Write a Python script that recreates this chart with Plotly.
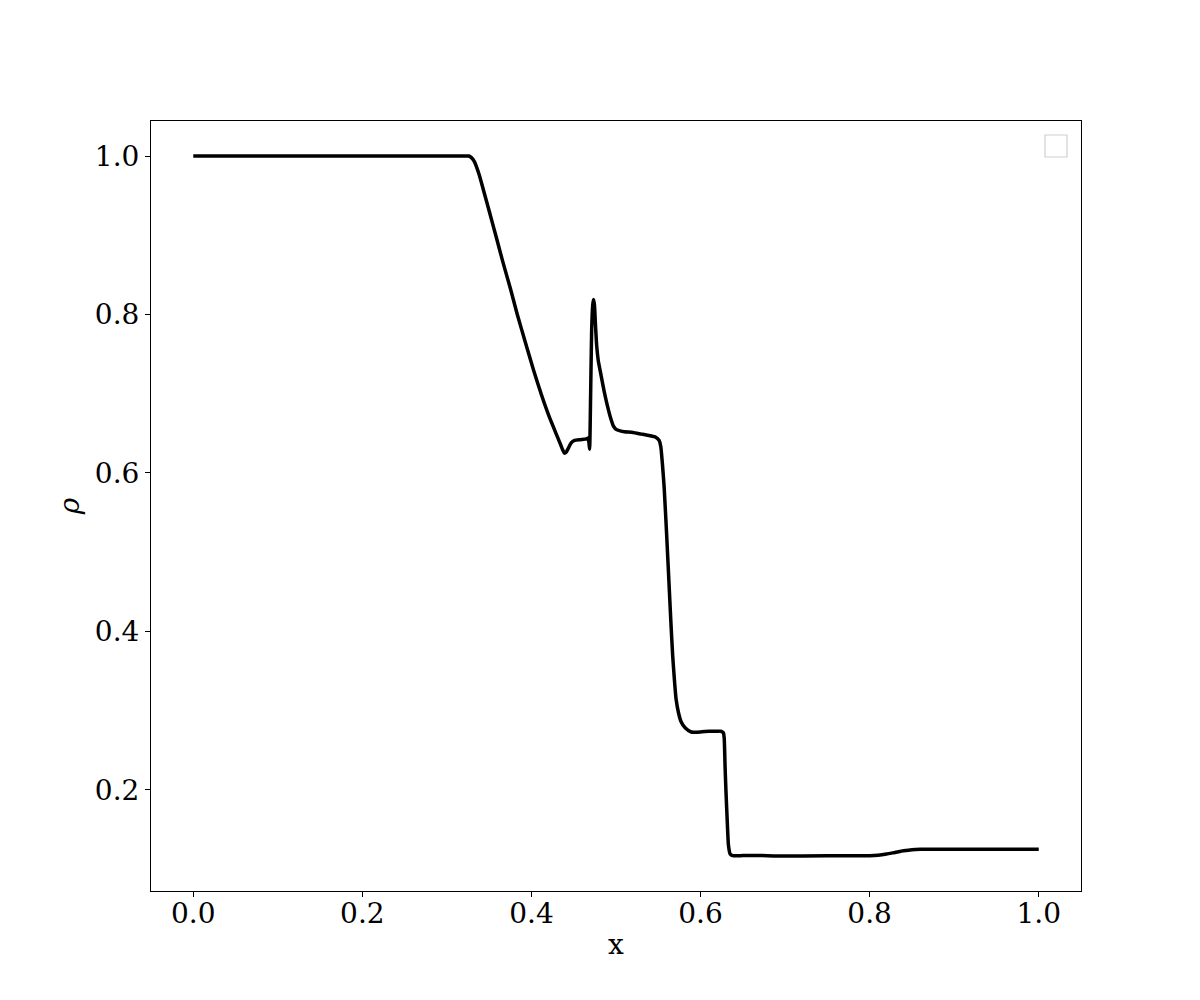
import plotly.graph_objects as go

x_vals = [0.0, 0.32, 0.326, 0.329, 0.3325, 0.338, 0.344, 0.350, 0.358, 0.366, 0.375, 0.383,
          0.393, 0.4027, 0.412, 0.421, 0.429, 0.434, 0.437, 0.439, 0.441, 0.444, 0.447, 0.451,
          0.458, 0.465, 0.467, 0.468, 0.4688, 0.4700, 0.4712, 0.4725, 0.4734, 0.4745, 0.4758,
          0.4772, 0.479, 0.482, 0.486, 0.490, 0.494, 0.497, 0.500, 0.505, 0.51, 0.52, 0.53, 0.54,
          0.547, 0.551, 0.553, 0.555, 0.557, 0.560, 0.563, 0.565, 0.567, 0.569, 0.571, 0.574,
          0.577, 0.582, 0.589, 0.60, 0.61, 0.62, 0.624, 0.627, 0.628, 0.629, 0.630, 0.632, 0.633,
          0.635, 0.638, 0.65, 0.67, 0.69, 0.75, 0.80, 0.81, 0.82, 0.83, 0.84, 0.85, 0.86, 1.0]
rho_vals = [1.0, 1.0, 1.0, 0.998, 0.993, 0.977, 0.954, 0.9305, 0.899, 0.867, 0.833, 0.801,
            0.764, 0.729, 0.698, 0.671, 0.650, 0.637, 0.629, 0.625, 0.626, 0.632, 0.638, 0.641,
            0.642, 0.643, 0.644, 0.638, 0.630, 0.70, 0.78, 0.812, 0.819, 0.812, 0.785,
            0.760, 0.742, 0.725, 0.703, 0.684, 0.668, 0.659, 0.655, 0.653, 0.652, 0.651, 0.649,
            0.647, 0.645, 0.641, 0.633, 0.610, 0.581, 0.52, 0.454, 0.41, 0.370, 0.34, 0.315, 0.297,
            0.286, 0.278, 0.273, 0.273, 0.274, 0.274, 0.274, 0.272, 0.265, 0.23, 0.20, 0.15, 0.13,
            0.119, 0.117, 0.117, 0.1172, 0.1165, 0.1167, 0.1168, 0.1175, 0.119, 0.121, 0.123,
            0.1245, 0.125, 0.125]

x_ticks = [0.0, 0.2, 0.4, 0.6, 0.8, 1.0]
y_ticks = [0.2, 0.4, 0.6, 0.8, 1.0]

font = dict(family="DejaVu Serif", size=28, color="black")

fig = go.Figure()
fig.add_trace(go.Scatter(x=x_vals, y=rho_vals, mode="lines",
                         line=dict(color="black", width=3.5, shape="spline", smoothing=0.5),
                         showlegend=False))

fig.update_layout(
    width=1200, height=1000,
    margin=dict(l=143, r=127, t=113, b=117),
    paper_bgcolor="white", plot_bgcolor="white",
    font=font,
    xaxis=dict(range=[-0.05, 1.05], tickvals=x_ticks, ticktext=[f"{v:.1f}" for v in x_ticks],
               showgrid=False, zeroline=False, showline=True, linecolor="black", linewidth=1,
               mirror=True, ticks="outside", ticklen=5, tickcolor="black",
               ticklabelstandoff=-8,
               title=dict(text="x", font=font, standoff=5)),
    yaxis=dict(range=[0.0723, 1.0442], tickvals=y_ticks, ticktext=[f"{v:.1f}" for v in y_ticks],
               showgrid=False, zeroline=False, showline=True, linecolor="black", linewidth=1,
               mirror=True, ticks="outside", ticklen=5, tickcolor="black",
               title=dict(text="<i>ρ</i>", font=font, standoff=7)),
)

# empty legend frame (as in the reference)
fig.add_shape(type="rect", xref="paper", yref="paper",
              x0=(1044 - 150) / 930, x1=(1066 - 150) / 930,
              y0=(890 - 156) / 770, y1=(890 - 134) / 770,
              line=dict(color="#d0d0d0", width=1.2), fillcolor="white")

fig.write_html("out.html")
